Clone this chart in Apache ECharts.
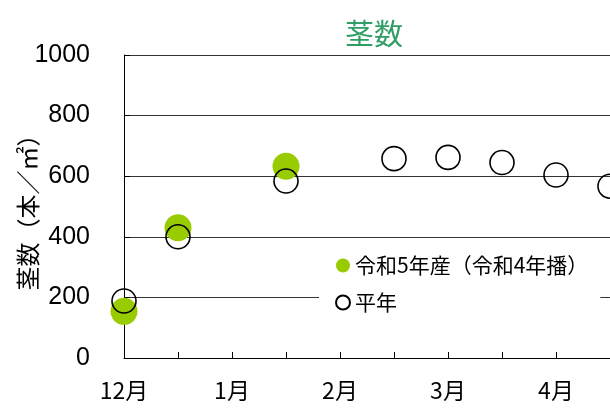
<!DOCTYPE html>
<html><head><meta charset="utf-8">
<script src="https://cdn.jsdelivr.net/npm/echarts@6/dist/echarts.min.js"></script>
<style>html,body{margin:0;padding:0;background:#fff}#c{width:610px;height:410px}</style>
</head><body><div id="c"></div>
<script>
const xTickLabels = ['12月','','1月','','2月','','3月','','4月',''];
const currentName = '令和5年産（令和4年播）';
const currentX = [0, 1, 3];
const currentY = [154, 430, 633];
const normalName = '平年';
const normalX = [0, 1, 3, 5, 6, 7, 8, 9];
const normalY = [188, 400, 584, 658, 662, 645, 604, 567];

const chart = echarts.init(document.getElementById('c'));
const font = '"Noto Sans CJK JP", sans-serif';
chart.setOption({
  animation: false,
  title: {
    text: '茎数', left: 369, top: 14, textAlign: 'center',
    textStyle: { color: '#2f9e64', fontSize: 29, fontWeight: 'normal', fontFamily: font }
  },
  grid: { left: 124, right: 0, top: 55, bottom: 52, containLabel: false, outerBoundsMode: 'none' },
  legend: {
    orient: 'vertical', left: 319, top: 247,
    padding: [8, 12, 8, 16], itemGap: 16,
    backgroundColor: '#fff',
    itemWidth: 14, itemHeight: 14,
    textStyle: { fontSize: 21, color: '#000', fontFamily: font },
    data: [{ name: currentName, icon: 'circle' }, { name: normalName, icon: 'circle' }]
  },
  xAxis: {
    type: 'value', min: 0, max: 9, interval: 1,
    axisLine: { lineStyle: { color: '#000', width: 1 } },
    axisTick: { inside: true, length: 6, lineStyle: { color: '#000' } },
    splitLine: { show: false },
    axisLabel: {
      margin: 21, color: '#000', fontSize: 23, fontFamily: font,
      formatter: v => xTickLabels[v] || ''
    }
  },
  yAxis: {
    type: 'value', min: 0, max: 1000, interval: 200,
    name: '茎数（本／㎡）', nameLocation: 'middle', nameGap: 84, nameRotate: 90,
    nameMoveOverlap: false,
    nameTextStyle: { fontSize: 24, color: '#000', fontFamily: font },
    axisLine: { show: true, lineStyle: { color: '#000', width: 1 } },
    axisTick: { show: true, inside: true, length: 6, lineStyle: { color: '#000' } },
    splitLine: { lineStyle: { color: '#333', width: 1 } },
    axisLabel: {
      margin: 34, color: '#000', fontSize: 25, fontFamily: '"Liberation Sans", Arial, sans-serif',
      formatter: v => String(v)
    }
  },
  series: [
    {
      name: currentName, type: 'scatter', clip: false, z: 2,
      symbol: 'circle', symbolSize: 27,
      itemStyle: { color: '#99cc00', opacity: 1 },
      data: currentX.map((x, i) => [x, currentY[i]])
    },
    {
      name: normalName, type: 'scatter', clip: false, z: 3,
      symbol: 'circle', symbolSize: 24,
      itemStyle: { color: 'rgba(255,255,255,0)', borderColor: '#000', borderWidth: 1.6, opacity: 1 },
      data: normalX.map((x, i) => [x, normalY[i]])
    }
  ]
});
</script></body></html>
